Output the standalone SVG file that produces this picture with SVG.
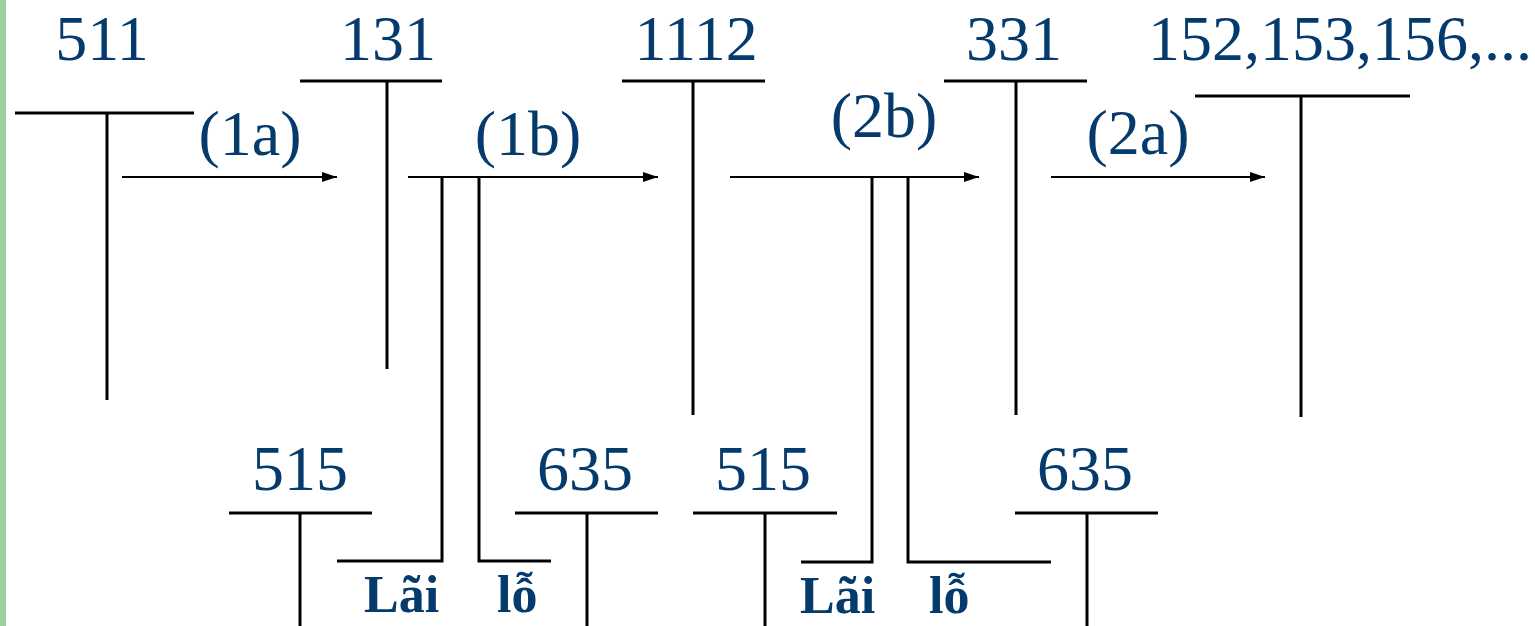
<svg xmlns="http://www.w3.org/2000/svg" width="1535" height="626" viewBox="0 0 1535 626">
<style>
.t{font-family:"Liberation Serif","Times New Roman",serif;font-size:64px;fill:#053a6c;text-anchor:middle}
.b{font-family:"Liberation Serif","Times New Roman",serif;font-size:52px;font-weight:bold;fill:#053a6c}
.ln{stroke:#000;stroke-width:3;fill:none}
.ar{stroke:#000;stroke-width:2;fill:none;marker-end:url(#ah)}
</style>
<defs>
<marker id="ah" markerUnits="userSpaceOnUse" markerWidth="16" markerHeight="12" refX="15" refY="5" orient="auto">
<path d="M0,0 L15,5 L0,10 Z" fill="#000"/>
</marker>
</defs>
<rect x="0" y="0" width="6" height="626" fill="#9dd09a"/>
<g id="acc511"><text class="t" x="102" y="60">511</text><path class="ln" d="M15,113 H194 M107,113 V400"/></g>
<g id="acc131"><text class="t" x="388" y="60">131</text><path class="ln" d="M300,81 H442 M387,81 V369"/></g>
<g id="acc1112"><text class="t" x="696" y="60">1112</text><path class="ln" d="M622,81 H765 M693,81 V415"/></g>
<g id="acc331"><text class="t" x="1014" y="60">331</text><path class="ln" d="M944,81 H1087 M1016,81 V415"/></g>
<g id="acc152"><text class="t" x="1340" y="60">152,153,156,...</text><path class="ln" d="M1195,96 H1410 M1301,96 V417"/></g>
<g id="acc515a"><text class="t" x="300" y="490">515</text><path class="ln" d="M229,513 H372 M300,513 V626"/></g>
<g id="acc635a"><text class="t" x="585" y="490">635</text><path class="ln" d="M515,513 H658 M587,513 V626"/></g>
<g id="acc515b"><text class="t" x="763" y="490">515</text><path class="ln" d="M693,513 H837 M765,513 V626"/></g>
<g id="acc635b"><text class="t" x="1085" y="490">635</text><path class="ln" d="M1015,513 H1158 M1087,513 V626"/></g>
<g id="connectors">
<path class="ar" d="M122,177 H337"/>
<path class="ar" d="M408,177 H658"/>
<path class="ar" d="M730,177 H979"/>
<path class="ar" d="M1051,177 H1265"/>
<path class="ln" d="M442,177 V561 H337 M479,177 V561 H551"/>
<path class="ln" d="M872,177 V562 H801 M908,177 V562 H1051"/>
</g>
<g id="labels">
<text class="t" x="250" y="155">(1a)</text>
<text class="t" x="528" y="155">(1b)</text>
<text class="t" x="884" y="137">(2b)</text>
<text class="t" x="1138" y="154">(2a)</text>
<text class="b" x="364" y="612">Lãi</text>
<text class="b" x="497" y="612">lỗ</text>
<text class="b" x="800" y="613">Lãi</text>
<text class="b" x="929" y="613">lỗ</text>
</g>
</svg>
